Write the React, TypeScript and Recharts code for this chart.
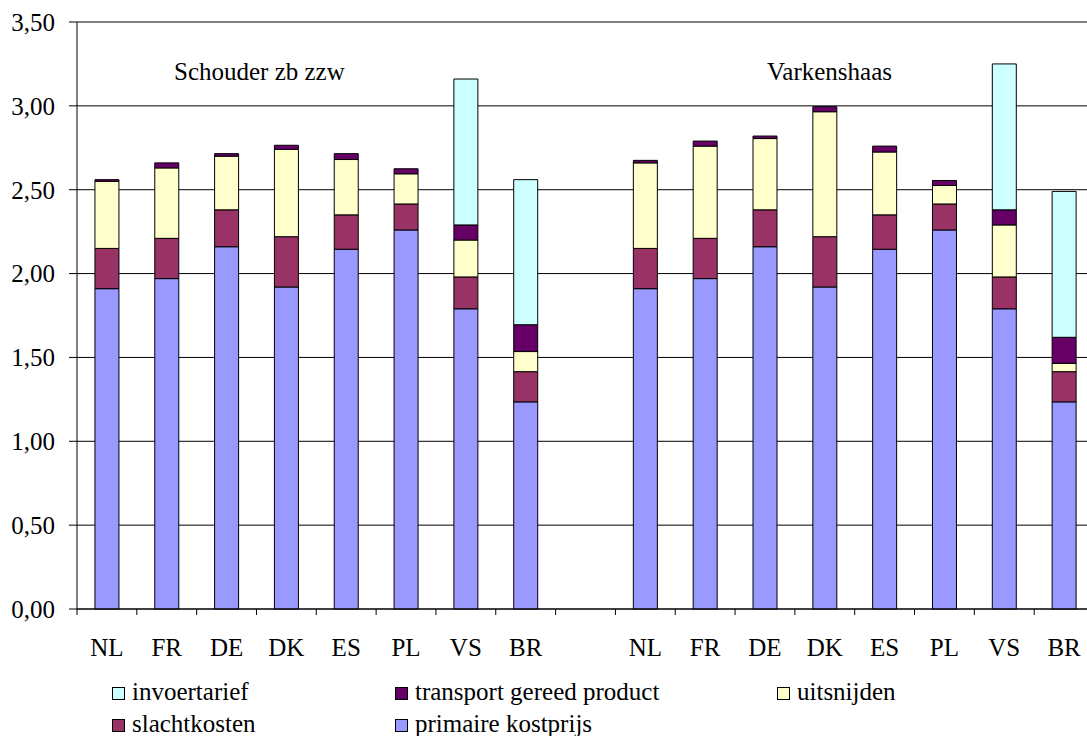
import { BarChart, Bar, XAxis, YAxis, CartesianGrid } from 'recharts';

const categories = ['NL', 'FR', 'DE', 'DK', 'ES', 'PL', 'VS', 'BR', '', 'NL', 'FR', 'DE', 'DK', 'ES', 'PL', 'VS', 'BR'];

const primaire = [1.91, 1.97, 2.16, 1.92, 2.145, 2.26, 1.79, 1.235, null, 1.91, 1.97, 2.16, 1.92, 2.145, 2.26, 1.79, 1.235];
const slacht = [0.24, 0.24, 0.22, 0.3, 0.205, 0.155, 0.19, 0.18, null, 0.24, 0.24, 0.22, 0.3, 0.205, 0.155, 0.19, 0.18];
const uitsnijden = [0.4, 0.42, 0.32, 0.52, 0.33, 0.18, 0.22, 0.12, null, 0.51, 0.55, 0.425, 0.745, 0.375, 0.11, 0.31, 0.05];
const transport = [0.01, 0.03, 0.015, 0.025, 0.035, 0.03, 0.09, 0.16, null, 0.015, 0.03, 0.015, 0.03, 0.035, 0.03, 0.09, 0.155];
const invoer = [0, 0, 0, 0, 0, 0, 0.87, 0.865, null, 0, 0, 0, 0, 0, 0, 0.87, 0.87];

const yTicks = [0, 0.5, 1, 1.5, 2, 2.5, 3, 3.5];
const groupTitles = ['Schouder zb zzw', 'Varkenshaas'];

// stacking order, bottom first
const series = [
  { key: 'primaire', name: 'primaire kostprijs', color: '#9999FF', values: primaire },
  { key: 'slacht', name: 'slachtkosten', color: '#993366', values: slacht },
  { key: 'uitsnijden', name: 'uitsnijden', color: '#FFFFCC', values: uitsnijden },
  { key: 'transport', name: 'transport gereed product', color: '#660066', values: transport },
  { key: 'invoer', name: 'invoertarief', color: '#CCFFFF', values: invoer },
];

const data = categories.map((cat, i) => {
  const row: any = { cat };
  series.forEach((s) => { row[s.key] = s.values[i]; });
  return row;
});

const font = "'Liberation Serif'";
const X_MARGIN = 29;

// label at the band centre, tick mark on the band's left edge (Excel style)
const CatTick = (props: any) => {
  const { x, y, payload, width, visibleTicksCount } = props;
  const half = payload && payload.offset ? payload.offset : width / visibleTicksCount / 2;
  const axisY = y - X_MARGIN;
  return (
    <g>
      <line x1={x - half} x2={x - half} y1={axisY} y2={axisY + 6} stroke="#000" />
      <text x={x} y={y} dy="0.71em" textAnchor="middle" fill="#000" style={{ fontSize: 25, fontFamily: font }}>
        {payload.value}
      </text>
    </g>
  );
};

const YTick = (props: any) => {
  const { x, y, payload } = props;
  return (
    <text x={x} y={y} dy="0.355em" textAnchor="end" fill="#000" style={{ fontSize: 25, fontFamily: font }}>
      {payload.value.toFixed(2).replace('.', ',')}
    </text>
  );
};

// legend slots
const legendOrder = ['invoer', 'transport', 'uitsnijden', 'slacht', 'primaire'];
const legendCols = [112, 395, 777];
const legendRows = [679, 711];

const App = () => {
  return (
    <div style={{ position: 'absolute', left: 0, top: 0, width: 1087, height: 736, overflow: 'hidden', background: '#fff', fontFamily: font }}>
      <BarChart
        width={1100}
        height={736}
        data={data}
        margin={{ top: 22, right: 6, left: 0, bottom: 87 }}
        barCategoryGap="30%"
        style={{ fontFamily: font }}
      >
        <CartesianGrid vertical={false} stroke="#000" />
        <XAxis
          dataKey="cat"
          interval={0}
          height={40}
          tickLine={false}
          tickSize={0}
          tickMargin={X_MARGIN}
          axisLine={{ stroke: '#000' }}
          tick={<CatTick />}
        />
        <YAxis
          width={77}
          domain={[0, 3.5]}
          ticks={yTicks}
          interval={0}
          tickSize={8}
          tickMargin={14}
          axisLine={{ stroke: '#000' }}
          tickLine={{ stroke: '#000' }}
          tick={<YTick />}
        />
        {series.map((s) => (
          <Bar
            key={s.key}
            dataKey={s.key}
            name={s.name}
            stackId="a"
            fill={s.color}
            stroke="#000"
            strokeWidth={1}
            isAnimationActive={false}
          />
        ))}
      </BarChart>

      <div style={{ position: 'absolute', left: 174, top: 59, fontSize: 25, lineHeight: '25px', whiteSpace: 'nowrap' }}>{groupTitles[0]}</div>
      <div style={{ position: 'absolute', left: 767, top: 59, fontSize: 25, lineHeight: '25px', whiteSpace: 'nowrap' }}>{groupTitles[1]}</div>

      {legendOrder.map((k, i) => {
        const s = series.find((x) => x.key === k)!;
        const left = legendCols[i % 3];
        const top = legendRows[Math.floor(i / 3)];
        return (
          <div key={k} style={{ position: 'absolute', left, top, display: 'flex', alignItems: 'flex-start', whiteSpace: 'nowrap' }}>
            <div style={{ width: 11, height: 11, marginTop: 8, border: '1px solid #000', background: s.color }} />
            <span style={{ marginLeft: 7, fontSize: 25, lineHeight: '25px' }}>{s.name}</span>
          </div>
        );
      })}
    </div>
  );
};

export default App;
